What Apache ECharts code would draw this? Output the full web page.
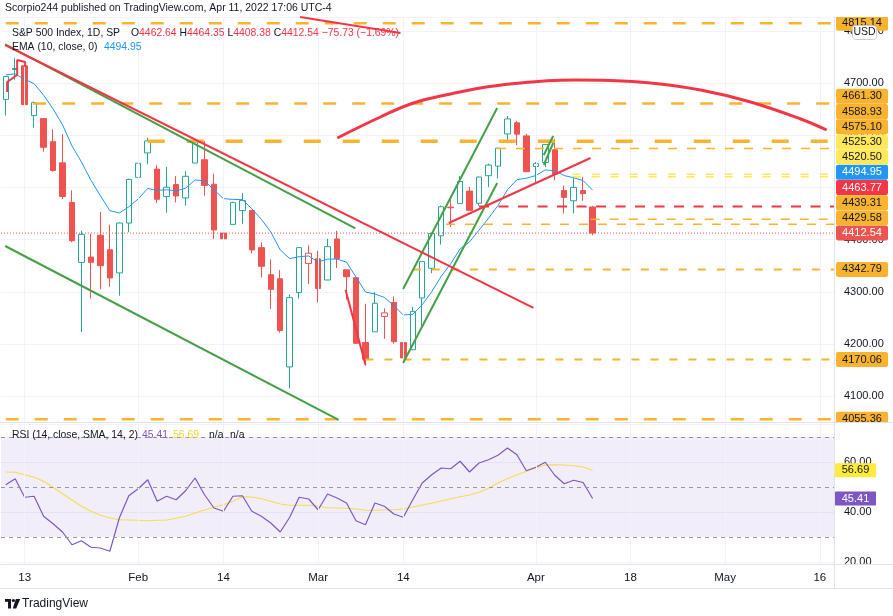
<!DOCTYPE html>
<html>
<head>
<meta charset="utf-8">
<title>S&amp;P 500 Index, 1D</title>
<script src="https://cdn.jsdelivr.net/npm/echarts@6.0.0/dist/echarts.min.js"></script>
<style>
  html, body { margin: 0; padding: 0; background: #fff; }
  #chart { width: 893px; height: 616px; }
</style>
</head>
<body>
<div id="chart"></div>
<script>
// trading days on the time axis (2022), incl. the empty space on the right
const tradingDays = [
  '01-11', '01-12', '01-13', '01-14', '01-18', '01-19', '01-20', '01-21', '01-24', '01-25', '01-26', '01-27', '01-28', '01-31',
  '02-01', '02-02', '02-03', '02-04', '02-07', '02-08', '02-09', '02-10', '02-11', '02-14', '02-15', '02-16', '02-17', '02-18', '02-22', '02-23', '02-24', '02-25', '02-28',
  '03-01', '03-02', '03-03', '03-04', '03-07', '03-08', '03-09', '03-10', '03-11', '03-14', '03-15', '03-16', '03-17', '03-18', '03-21', '03-22', '03-23', '03-24', '03-25', '03-28', '03-29', '03-30', '03-31',
  '04-01', '04-04', '04-05', '04-06', '04-07', '04-08', '04-11', '04-12', '04-13', '04-14', '04-18', '04-19', '04-20', '04-21', '04-22', '04-25', '04-26', '04-27', '04-28', '04-29',
  '05-02', '05-03', '05-04', '05-05', '05-06', '05-09', '05-10', '05-11', '05-12', '05-13', '05-16', '05-17'
];
const tickDays = ['01-13', '02-01', '02-14', '03-01', '03-14', '04-01', '04-18', '05-02', '05-16'];
const tickLabels = ['13', 'Feb', '14', 'Mar', '14', 'Apr', '18', 'May', '16'];

// daily OHLC, Jan 11 .. Apr 11
const opens = [
  4669.14, 4728.59, 4733.56, 4637.99, 4632.24, 4588.03, 4547.35, 4471.38, 4356.32, 4366.64, 4408.43, 4380.58, 4336.19, 4431.79,
  4519.57, 4566.39, 4535.41, 4482.79, 4505.75, 4480.02, 4547.00, 4553.24, 4506.27, 4412.61, 4429.28, 4455.75, 4456.06, 4384.57, 4332.74, 4324.93, 4155.77, 4298.38, 4354.17,
  4363.14, 4322.56, 4401.31, 4342.12, 4327.01, 4202.66, 4223.10, 4252.55, 4279.50, 4202.75, 4188.82, 4288.14, 4345.11, 4407.34, 4462.40, 4469.10, 4493.10, 4469.98, 4522.66, 4541.09, 4602.86, 4624.20, 4599.02,
  4540.32, 4547.97, 4572.45, 4494.17, 4474.65, 4494.15, 4462.64
];
const highs = [
  4714.13, 4748.83, 4744.13, 4665.13, 4632.24, 4611.55, 4602.11, 4494.52, 4417.35, 4411.01, 4453.23, 4428.74, 4432.72, 4516.89,
  4550.49, 4595.31, 4542.88, 4539.66, 4521.86, 4531.32, 4590.03, 4588.92, 4526.33, 4426.22, 4472.77, 4489.55, 4456.06, 4394.60, 4362.12, 4341.51, 4294.73, 4385.34, 4388.84,
  4378.45, 4401.48, 4416.78, 4342.12, 4327.01, 4276.94, 4299.40, 4268.28, 4291.01, 4247.57, 4271.05, 4357.86, 4412.67, 4465.40, 4481.75, 4522.00, 4501.07, 4520.58, 4546.03, 4575.65, 4637.30, 4627.77, 4603.07,
  4548.70, 4583.50, 4593.45, 4503.94, 4521.16, 4520.41, 4464.35
];
const lows = [
  4638.27, 4706.71, 4650.29, 4614.75, 4568.70, 4530.20, 4477.95, 4395.34, 4222.62, 4287.11, 4304.80, 4309.50, 4292.46, 4414.02,
  4483.53, 4544.32, 4470.39, 4451.50, 4471.47, 4465.40, 4547.00, 4484.31, 4401.41, 4364.84, 4429.28, 4429.68, 4373.81, 4327.22, 4267.11, 4221.51, 4114.65, 4286.83, 4315.12,
  4279.54, 4322.56, 4345.56, 4284.98, 4199.85, 4157.87, 4223.10, 4209.80, 4200.49, 4161.72, 4187.90, 4229.34, 4335.65, 4390.57, 4424.30, 4469.10, 4455.81, 4465.17, 4501.07, 4517.69, 4589.66, 4581.32, 4530.41,
  4507.57, 4539.21, 4514.17, 4450.04, 4450.30, 4474.60, 4408.38
];
const closes = [
  4713.07, 4726.35, 4659.03, 4662.85, 4577.11, 4532.76, 4482.73, 4397.94, 4410.13, 4356.45, 4349.93, 4326.51, 4431.85, 4515.55,
  4546.54, 4589.38, 4477.44, 4500.53, 4483.87, 4521.54, 4587.18, 4504.08, 4418.64, 4401.67, 4471.07, 4475.01, 4380.26, 4348.87, 4304.76, 4225.50, 4288.70, 4384.65, 4373.94,
  4306.26, 4386.54, 4363.49, 4328.87, 4201.09, 4170.70, 4277.88, 4259.52, 4204.31, 4173.11, 4262.45, 4357.86, 4411.67, 4463.12, 4461.18, 4511.61, 4456.24, 4520.16, 4543.06, 4575.52, 4631.60, 4602.45, 4530.41,
  4545.86, 4582.64, 4525.12, 4481.15, 4500.21, 4488.28, 4412.54
];
const prevClose = 4670.29;

const ema10 = [
  4716.3, 4718.1, 4707.4, 4699.3, 4677.1, 4650.9, 4620.3, 4579.9, 4549.0, 4514.0, 4484.2, 4455.5, 4451.2, 4462.9,
  4478.1, 4498.3, 4494.5, 4495.6, 4493.5, 4498.6, 4514.7, 4512.8, 4495.7, 4478.6, 4477.2, 4476.8, 4459.2, 4439.1, 4414.7, 4380.3, 4363.6, 4367.4, 4368.6,
  4357.3, 4362.6, 4362.8, 4356.6, 4328.3, 4299.6, 4295.7, 4289.1, 4273.7, 4255.4, 4256.7, 4275.1, 4299.9, 4329.6, 4353.5, 4382.2, 4395.7, 4418.3, 4441.0, 4465.5, 4495.7, 4515.1, 4517.9,
  4523.0, 4533.8, 4532.2, 4522.9, 4518.8, 4513.3, 4494.95
];

const rsi14 = [
  50.9, 53.3, 45.9, 46.3, 38.3, 35.3, 32.0, 26.9, 28.5, 25.9, 25.6, 24.3, 37.6, 46.5,
  49.3, 52.9, 44.3, 46.3, 44.9, 48.5, 53.6, 46.9, 41.6, 40.3, 46.3, 46.5, 40.3, 38.3, 35.6, 32.0, 37.9, 45.9, 45.2,
  40.9, 47.2, 45.6, 43.6, 36.5, 34.9, 43.6, 42.3, 39.2, 37.9, 44.9, 51.6, 54.9, 57.6, 57.3, 60.3, 56.0, 59.6, 60.9, 62.7, 65.6, 62.9, 56.5,
  57.9, 59.9, 54.7, 51.3, 52.7, 51.8, 45.41
];
const rsiSma = [
  56.0, 55.9, 54.9, 53.9, 52.3, 49.9, 47.3, 44.8, 42.3, 40.3, 38.7, 37.6, 36.9, 36.8,
  36.7, 36.5, 36.7, 36.8, 37.5, 38.3, 39.6, 40.8, 41.9, 42.9, 44.3, 46.1, 46.0, 45.3, 44.3, 43.2, 42.7, 42.7, 42.7,
  42.3, 41.7, 41.6, 41.5, 41.2, 40.7, 40.7, 40.8, 40.9, 41.2, 42.0, 42.8, 43.5, 44.4, 45.3, 46.1, 46.8, 47.9, 49.5, 51.6, 53.3, 54.9, 56.3,
  57.6, 58.8, 58.9, 58.8, 58.5, 58.0, 56.69
];

// drawings: [bar index, price]
const upperGreen = [[-0.06, 4774.8], [36.94, 4421.8]];
const lowerGreen = [[-0.06, 4387.8], [35.17, 4054.0]];
const upperRed = [[-0.06, 4773.5], [55.75, 4268.9]];
const topRed = [[31.1, 4827.0], [41.7, 4796.5]];
const marchRed = [[35.9, 4303.7], [38.0, 4159.8]];
const riseRed = [[46.8, 4431.9], [61.78, 4556.7]];
const riseGreenA = [[41.98, 4305.3], [51.92, 4652.6]];
const riseGreenB = [[41.98, 4163.3], [51.92, 4508.7]];
const flagGreenA = [[56.84, 4562.4], [57.83, 4598.9]];
const flagGreenB = [[56.84, 4543.2], [57.83, 4585.4]];
const januaryRed = [[0.15, 4683.3], [0.15, 4702.5], [1.21, 4715.9], [1.21, 4744.7], [2.05, 4740.9], [2.05, 4731.3]];
const arcRed = [
  [35.03, 4595.0], [39.58, 4635.3], [43.07, 4662.2], [46.98, 4679.5], [50.15, 4691.0], [54.38, 4700.6], [57.23, 4705.0],
  [60.19, 4706.3], [63.89, 4705.4], [68.12, 4700.6], [73.41, 4687.1], [78.69, 4664.1], [83.98, 4631.5], [86.73, 4610.4]
];

// horizontal levels and the bar where each one starts
const levelPrices = [4815.14, 4661.30, 4588.93, 4575.10, 4525.30, 4520.50, 4463.77, 4439.31, 4429.58, 4342.79, 4170.06, 4055.36];
const levelStarts = [0, 2.9, 15, 51.9, 59.9, 59.9, 50, 61.8, 46.5, 43, 38, 0];

const priceTags = [4815.14, 4661.30, 4588.93, 4575.10, 4525.30, 4520.50, 4494.95, 4463.77, 4439.31, 4429.58, 4412.54, 4342.79, 4170.06, 4055.36];
const rsiTags = [56.69, 45.41];

const UP = '#26a69a';
const DOWN = '#ef5350';
const ORANGE = '#f9b32f';
const YELLOW = '#ffe95a';
const RED = '#f23645';
const GREEN = '#43a047';
const PURPLE = '#7e57c2';
const GRID = '#f0f3fa';
const TEXT = '#131722';
const FONT = '"Liberation Sans", Arial, sans-serif';

const N = tradingDays.length;
const lastClose = closes[closes.length - 1];

const levelLooks = ['wide', 'wide', 'bold', 'thin', 'yellow', 'yellow', 'alert', 'thin', 'thin', 'mid', 'mid', 'wide'];
const looks = {
  wide: { color: ORANGE, width: 2.5, type: [13, 16] },
  bold: { color: ORANGE, width: 3.5, type: [17, 22] },
  thin: { color: ORANGE, width: 1.5, type: [9, 10] },
  mid: { color: ORANGE, width: 2, type: [8, 11] },
  yellow: { color: YELLOW, width: 1.5, type: [8, 11] },
  alert: { color: RED, width: 2, type: [10, 9.5] }
};

const candles = closes.map((c, i) => {
  const o = opens[i];
  const prev = i === 0 ? prevClose : closes[i - 1];
  const col = c >= prev ? UP : DOWN;
  const fill = c > o ? 'rgba(255,255,255,0)' : col;
  return {
    value: [o, c, lows[i], highs[i]],
    itemStyle: { color: fill, color0: fill, borderColor: col, borderColor0: col }
  };
});

const chart = echarts.init(document.getElementById('chart'));

function drawing(data, style, extra) {
  return Object.assign({
    type: 'line',
    xAxisIndex: 1,
    yAxisIndex: 0,
    data: data,
    symbol: 'none',
    silent: true,
    z: 5,
    lineStyle: style
  }, extra || {});
}

function gridLines(xAxisIndex, yAxisIndex) {
  return {
    type: 'line',
    xAxisIndex: xAxisIndex,
    yAxisIndex: yAxisIndex,
    data: [],
    z: 1,
    silent: true,
    markLine: {
      silent: true,
      symbol: 'none',
      label: { show: false },
      lineStyle: { color: GRID, width: 1, type: 'solid' },
      emphasis: { disabled: true },
      data: tickDays.map(d => ({ xAxis: d }))
    }
  };
}

const series = [
  gridLines(0, 0),
  gridLines(2, 1),
  {
    type: 'candlestick',
    xAxisIndex: 0,
    yAxisIndex: 0,
    data: candles,
    barWidth: '63%',
    itemStyle: { borderWidth: 1 },
    z: 3
  },
  {
    type: 'line',
    xAxisIndex: 0,
    yAxisIndex: 0,
    data: ema10,
    symbol: 'none',
    lineStyle: { color: '#2196f3', width: 1 },
    z: 4
  }
];

levelPrices.forEach((p, i) => {
  series.push(drawing([[levelStarts[i], p], [N - 0.5, p]], looks[levelLooks[i]]));
});
series.push(drawing([[-0.5, lastClose], [N - 0.5, lastClose]], { color: DOWN, width: 1, type: [1, 2] }));

[upperGreen, lowerGreen, riseGreenA, riseGreenB, flagGreenA, flagGreenB].forEach(d => {
  series.push(drawing(d, { color: GREEN, width: 2 }));
});
[upperRed, topRed, marchRed, riseRed, januaryRed].forEach(d => {
  series.push(drawing(d, { color: RED, width: 2 }));
});
series.push(drawing(arcRed, { color: RED, width: 3 }, { smooth: 0.4 }));

series.push({
  type: 'line',
  xAxisIndex: 2,
  yAxisIndex: 1,
  data: rsiSma,
  symbol: 'none',
  z: 3,
  lineStyle: { color: '#f5dc55', width: 1.2 },
  markArea: {
    silent: true,
    itemStyle: { color: 'rgba(126,87,194,0.1)' },
    data: [[{ yAxis: 30 }, { yAxis: 70 }]]
  },
  markLine: {
    silent: true,
    symbol: 'none',
    label: { show: false },
    lineStyle: { color: '#9598a1', width: 1, type: [4, 4] },
    emphasis: { disabled: true },
    data: [{ yAxis: 70 }, { yAxis: 50 }, { yAxis: 30 }]
  }
});
series.push({
  type: 'line',
  xAxisIndex: 2,
  yAxisIndex: 1,
  data: rsi14,
  symbol: 'none',
  z: 4,
  lineStyle: { color: PURPLE, width: 1.2 }
});

const option = {
  animation: false,
  grid: [
    { left: 1, right: 59, top: 17, height: 405 },
    { left: 1, right: 59, top: 424, height: 140 }
  ],
  xAxis: [
    { type: 'category', gridIndex: 0, data: tradingDays, show: false },
    { type: 'value', gridIndex: 0, min: -0.5, max: N - 0.5, show: false },
    {
      type: 'category',
      gridIndex: 1,
      data: tradingDays,
      axisLine: { show: false },
      axisTick: { show: false },
      splitLine: { show: false },
      axisLabel: {
        color: TEXT,
        fontFamily: FONT,
        fontSize: 11.5,
        margin: 8,
        interval: (i, v) => tickDays.indexOf(v) >= 0,
        formatter: v => tickLabels[tickDays.indexOf(v)]
      }
    }
  ],
  yAxis: [
    {
      type: 'value',
      gridIndex: 0,
      position: 'right',
      min: 4050.1,
      max: 4827.2,
      minInterval: 100,
      maxInterval: 100,
      axisLine: { show: false },
      axisTick: { show: false },
      splitLine: { lineStyle: { color: GRID } },
      axisLabel: {
        color: TEXT,
        fontFamily: FONT,
        fontSize: 11,
        margin: 10,
        showMinLabel: false,
        showMaxLabel: false,
        formatter: v => v.toFixed(2)
      }
    },
    {
      type: 'value',
      gridIndex: 1,
      position: 'right',
      min: 19.2,
      max: 75.2,
      minInterval: 20,
      maxInterval: 20,
      axisLine: { show: false },
      axisTick: { show: false },
      splitLine: { lineStyle: { color: GRID } },
      axisLabel: {
        color: TEXT,
        fontFamily: FONT,
        fontSize: 11,
        margin: 10,
        showMinLabel: false,
        showMaxLabel: false,
        formatter: v => v.toFixed(2)
      }
    }
  ],
  series: series
};

chart.setOption(option);

// price scale tags, stacked upward like on the TradingView scale
const tagKinds = ['level', 'level', 'level', 'level', 'yellow', 'yellow', 'ema', 'alert', 'level', 'level', 'close', 'level', 'level', 'level'];
const tagLooks = {
  level: { bg: ORANGE, fg: TEXT },
  yellow: { bg: YELLOW, fg: TEXT },
  ema: { bg: '#2196f3', fg: '#ffffff' },
  alert: { bg: RED, fg: '#ffffff' },
  close: { bg: DOWN, fg: '#ffffff' }
};

const g = [];
const LEGEND = '10.4px ' + FONT;
const txt = (text, x, y, fill, font, extra) => Object.assign({
  type: 'text', x: x, y: y, z: 120,
  style: { text: text, fill: fill, font: font || LEGEND, verticalAlign: 'middle' }
}, extra || {});

const order = priceTags.map((v, i) => i).sort((a, b) => priceTags[a] - priceTags[b]);
let limit = Infinity;
order.forEach(i => {
  const py = chart.convertToPixel({ yAxisIndex: 0 }, priceTags[i]);
  const y = Math.min(py, limit - 15.2);
  limit = y;
  const look = tagLooks[tagKinds[i]];
  g.push({ type: 'rect', z: 100, shape: { x: 836, y: y - 7.5, width: 52, height: 15, r: 2 }, style: { fill: look.bg } });
  g.push({ type: 'text', x: 862, y: y, z: 101, style: { text: priceTags[i].toFixed(2), fill: look.fg, font: '11px ' + FONT, align: 'center', verticalAlign: 'middle' } });
});

const rsiLooks = [{ bg: '#ffeb3b', fg: TEXT }, { bg: PURPLE, fg: '#ffffff' }];
rsiTags.forEach((v, i) => {
  const y = chart.convertToPixel({ yAxisIndex: 1 }, v);
  g.push({ type: 'rect', z: 100, shape: { x: 835, y: y - 7, width: 41, height: 14, r: 1 }, style: { fill: rsiLooks[i].bg } });
  g.push({ type: 'text', x: 855.5, y: y, z: 101, style: { text: v.toFixed(2), fill: rsiLooks[i].fg, font: '11px ' + FONT, align: 'center', verticalAlign: 'middle' } });
});

// cut the tags at the pane borders
g.push({ type: 'rect', z: 102, shape: { x: 835, y: 423, width: 58, height: 8 }, style: { fill: '#ffffff' } });
g.push({ type: 'rect', z: 102, shape: { x: 835, y: 0, width: 58, height: 17 }, style: { fill: '#ffffff' } });

// pane borders
const border = '#e0e3eb';
[[834.5, 17, 834.5, 588], [0, 422.5, 893, 422.5], [0, 564.5, 893, 564.5], [0, 588.5, 893, 588.5]].forEach(l => {
  g.push({ type: 'line', z: 103, shape: { x1: l[0], y1: l[1], x2: l[2], y2: l[3] }, style: { stroke: border, lineWidth: 1 } });
});

// USD badge
g.push({ type: 'rect', z: 104, shape: { x: 852.5, y: 25.5, width: 24, height: 14, r: 3 }, style: { fill: '#ffffff', stroke: '#c9ccd4', lineWidth: 1 } });
g.push(txt('USD', 864.5, 32.5, TEXT, '10.5px ' + FONT, { z: 105 }));
g[g.length - 1].style.align = 'center';

// header and legends
g.push(txt('Scorpio244 published on TradingView.com, Apr 11, 2022 17:06 UTC-4', 5, 8.5, TEXT, '10.5px ' + FONT));
g.push(txt('S&P 500 Index, 1D, SP', 12, 33.5, TEXT));
g.push({
  type: 'text', x: 131, y: 33.5, z: 120,
  style: {
    text: '{k|O}{v|4462.64} {k|H}{v|4464.35} {k|L}{v|4408.38} {k|C}{v|4412.54} {v|\u221275.73 (\u22121.69%)}',
    font: LEGEND,
    fill: TEXT,
    verticalAlign: 'middle',
    rich: { k: { fill: TEXT, font: LEGEND }, v: { fill: RED, font: LEGEND } }
  }
});
g.push(txt('EMA (10, close, 0)', 12, 47.5, TEXT));
g.push(txt('4494.95', 104, 47.5, '#2196f3'));
g.push(txt('RSI (14, close, SMA, 14, 2)', 12, 435, TEXT));
g.push(txt('45.41', 142, 435, PURPLE));
g.push(txt('56.69', 173, 435, '#f2d43f'));
g.push(txt('n/a', 209, 435, TEXT));
g.push(txt('n/a', 230, 435, TEXT));

// TradingView logo
g.push({ type: 'rect', z: 120, shape: { x: 5, y: 599, width: 6, height: 2.8 }, style: { fill: TEXT } });
g.push({ type: 'rect', z: 120, shape: { x: 8, y: 599, width: 3, height: 9.5 }, style: { fill: TEXT } });
g.push({ type: 'circle', z: 120, shape: { cx: 13.4, cy: 600.5, r: 1.6 }, style: { fill: TEXT } });
g.push({ type: 'polygon', z: 120, shape: { points: [[15.8, 599], [20.2, 599], [16.2, 608.5], [12.8, 608.5]] }, style: { fill: TEXT } });
g.push(txt('TradingView', 22, 604, TEXT, '12px ' + FONT));

chart.setOption({ graphic: g });
</script>
</body>
</html>
